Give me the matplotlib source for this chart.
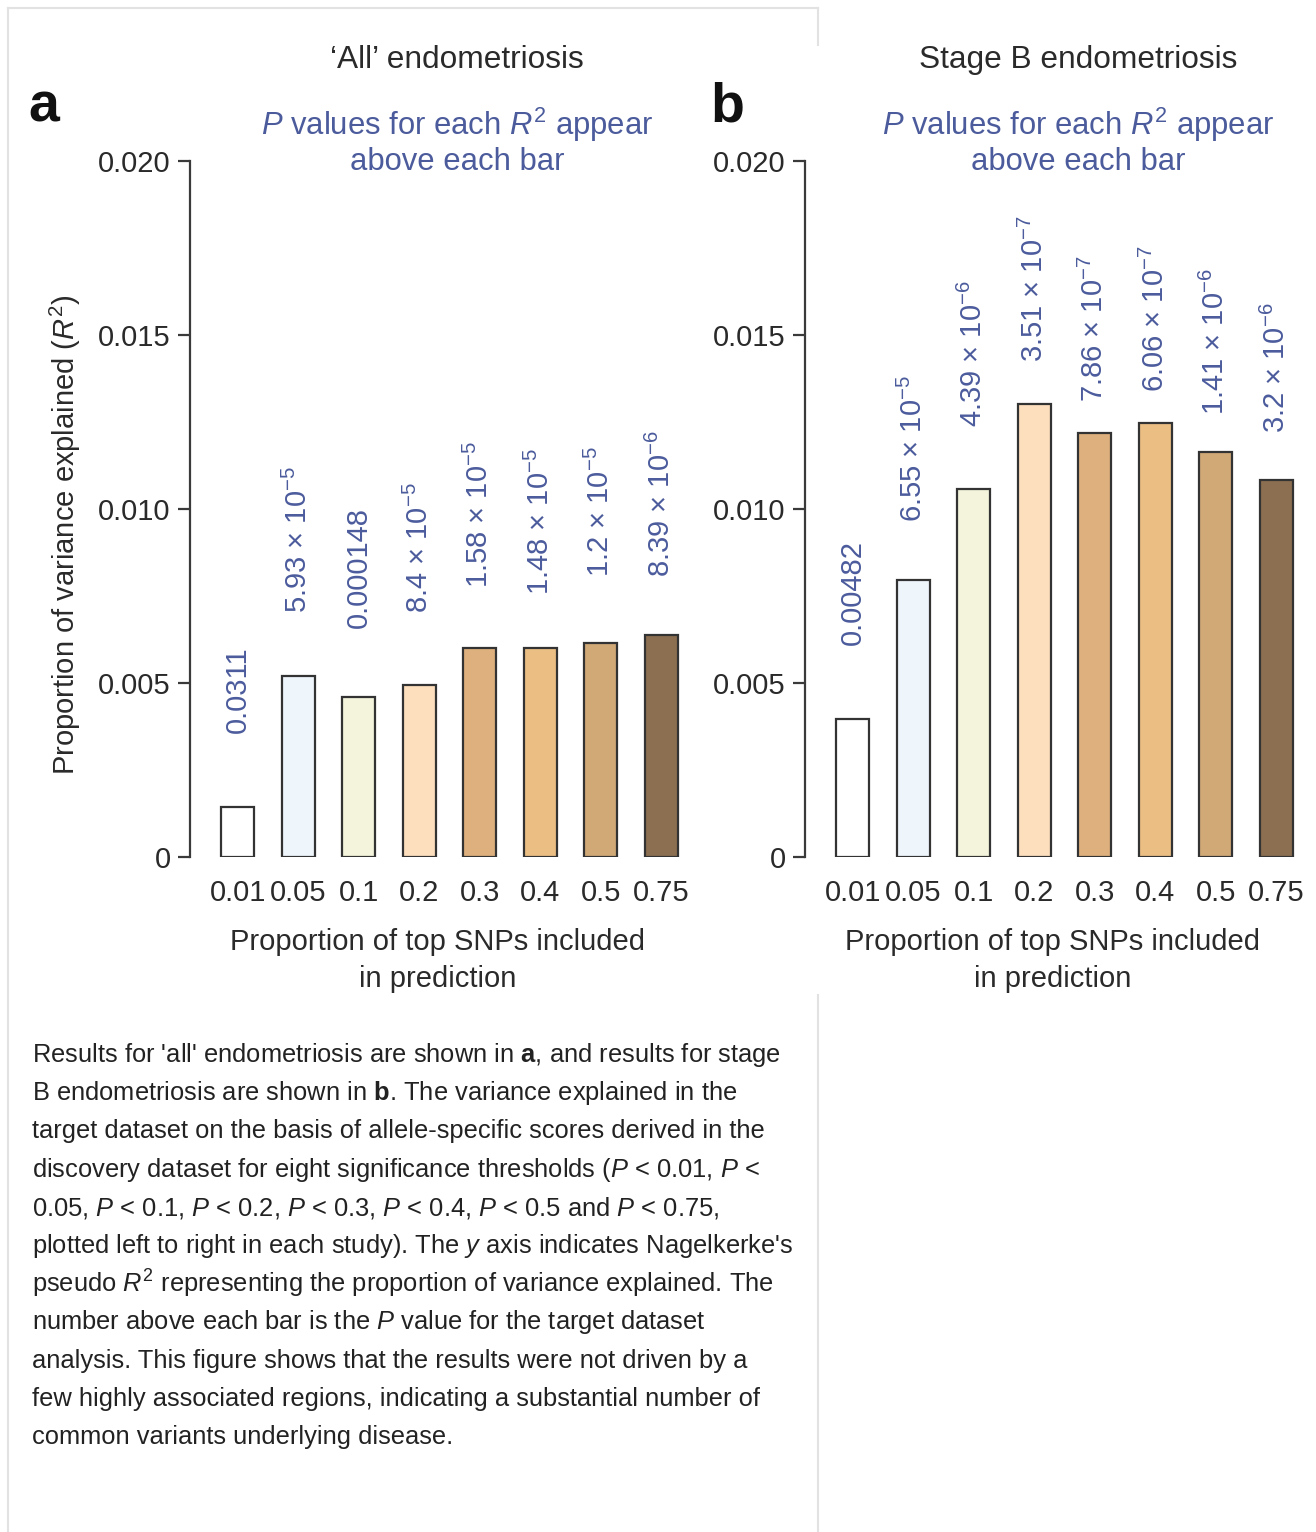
import matplotlib
matplotlib.use('Agg')
import matplotlib.pyplot as plt
from matplotlib.lines import Line2D
import numpy as np

plt.rcParams['font.family'] = ['Liberation Sans', 'DejaVu Sans']
plt.rcParams['mathtext.fontset'] = 'custom'
plt.rcParams['mathtext.rm'] = 'Liberation Sans'
plt.rcParams['mathtext.it'] = 'Liberation Sans:italic'
plt.rcParams['mathtext.bf'] = 'Liberation Sans:bold'

# data
thresholds = ['0.01', '0.05', '0.1', '0.2', '0.3', '0.4', '0.5', '0.75']
r2_all = [0.00145, 0.00520, 0.00461, 0.00494, 0.00601, 0.00601, 0.00616, 0.00639]
r2_stageb = [0.00396, 0.00796, 0.01057, 0.01301, 0.01219, 0.01246, 0.01165, 0.01083]
p_all = ['0.0311', '5.93 × 10$^{-5}$', '0.000148', '8.4 × 10$^{-5}$',
         '1.58 × 10$^{-5}$', '1.48 × 10$^{-5}$', '1.2 × 10$^{-5}$', '8.39 × 10$^{-6}$']
p_stageb = ['0.00482', '6.55 × 10$^{-5}$', '4.39 × 10$^{-6}$', '3.51 × 10$^{-7}$',
            '7.86 × 10$^{-7}$', '6.06 × 10$^{-7}$', '1.41 × 10$^{-6}$', '3.2 × 10$^{-6}$']
# where each P value label starts (y, data units)
p_y_all = [0.00356, 0.00701, 0.00658, 0.00701, 0.00773, 0.00753, 0.00805, 0.00805]
p_y_stageb = [0.00609, 0.00963, 0.01236, 0.01422, 0.01308, 0.01336, 0.01270, 0.01218]
bar_colors = ['#ffffff', '#eff6fb', '#f3f4db', '#fddfbd', '#ddb07d', '#ebbf84', '#d1a977', '#8c6f50']

caption = [
    "Results for 'all' endometriosis are shown in $\\mathbf{a}$, and results for stage",
    "B endometriosis are shown in $\\mathbf{b}$. The variance explained in the",
    "target dataset on the basis of allele-specific scores derived in the",
    "discovery dataset for eight significance thresholds ($P$ < 0.01, $P$ <",
    "0.05, $P$ < 0.1, $P$ < 0.2, $P$ < 0.3, $P$ < 0.4, $P$ < 0.5 and $P$ < 0.75,",
    "plotted left to right in each study). The $y$ axis indicates Nagelkerke's",
    "pseudo $R^2$ representing the proportion of variance explained. The",
    "number above each bar is the $P$ value for the target dataset",
    "analysis. This figure shows that the results were not driven by a",
    "few highly associated regions, indicating a substantial number of",
    "common variants underlying disease.",
]

W, H = 1316, 1532
fig = plt.figure(figsize=(W / 100, H / 100), dpi=100)
fig.patch.set_facecolor('white')


def fx(px):
    return px / W


def fy(py):
    return 1 - py / H


blue = '#4b5b9c'
dark = '#2a2a2a'
fs = 21

# light frame around the left part of the page
frame = '#e2e2e2'
for xs, ys in [([8, 8], [8, H]), ([8, 818], [8, 8]), ([818, 818], [8, 45]), ([818, 818], [995, H])]:
    fig.add_artist(Line2D([fx(x) for x in xs], [fy(y) for y in ys],
                          transform=fig.transFigure, color=frame, lw=1.5))


def panel(left_px, r2, pvals, py, title, letter, letter_px, cx):
    unit = 60.5
    x0 = -0.79
    x1 = 7.5
    ax = fig.add_axes([fx(left_px), fy(857), (x1 - x0) * unit / W, (857 - 161) / H])
    x = np.arange(len(r2))
    ax.bar(x, r2, width=0.55, color=bar_colors, edgecolor='#333333', linewidth=1.6)
    ax.set_xlim(x0, x1)
    ax.set_ylim(0, 0.02)
    for s in ['top', 'right', 'bottom']:
        ax.spines[s].set_visible(False)
    ax.spines['left'].set_color('#3a3a3a')
    ax.spines['left'].set_linewidth(1.6)
    ax.set_yticks([0, 0.005, 0.010, 0.015, 0.020], ['0', '0.005', '0.010', '0.015', '0.020'])
    ax.set_xticks(x, thresholds)
    ax.tick_params(axis='y', length=9, width=1.6, color='#3a3a3a', labelsize=fs,
                   labelcolor=dark, pad=5)
    ax.tick_params(axis='x', length=0, labelsize=fs, labelcolor=dark, pad=16)
    for xi, lab, yy in zip(x, pvals, py):
        ax.text(xi, yy, lab, rotation=90, ha='center', va='bottom', color=blue, fontsize=fs)
    fig.text(fx(cx), fy(60), title, ha='center', va='center', fontsize=22.8, color=dark)
    fig.text(fx(cx), fy(125), '$P$ values for each $R^2$ appear', ha='center', va='center',
             fontsize=22.3, color=blue)
    fig.text(fx(cx), fy(162), 'above each bar', ha='center', va='center',
             fontsize=22.3, color=blue)
    fig.text(fx(letter_px), fy(122), letter, ha='left', va='baseline', fontsize=40,
             fontweight='bold', color='#111111')
    xc = left_px + (3.5 - x0) * unit
    fig.text(fx(xc - 12), fy(942), 'Proportion of top SNPs included', ha='center', va='center',
             fontsize=fs, color=dark)
    fig.text(fx(xc - 12), fy(979), 'in prediction', ha='center', va='center',
             fontsize=fs, color=dark)
    return ax


panel(190, r2_all, p_all, p_y_all, "\u2018All\u2019 endometriosis", 'a', 28, 457)
panel(805, r2_stageb, p_stageb, p_y_stageb, 'Stage B endometriosis', 'b', 710, 1078)

fig.text(fx(65), fy(535), 'Proportion of variance explained ($R^2$)', rotation=90,
         ha='center', va='center', fontsize=fs, color=dark)

for i, line in enumerate(caption):
    fig.text(fx(32), fy(1055 + i * 38.2), line, ha='left', va='center', fontsize=18.4, color='#222222')

fig.savefig('out.png', dpi=100, facecolor='white')
